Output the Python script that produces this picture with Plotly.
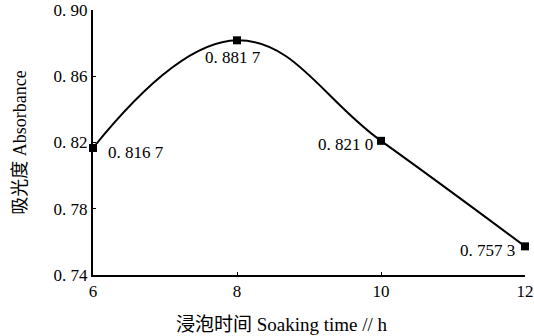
import plotly.graph_objects as go

soaking_time = [6, 8, 10, 12]
absorbance = [0.8167, 0.8817, 0.8210, 0.7573]
point_labels = ["0. 816 7", "0. 881 7", "0. 821 0", "0. 757 3"]
y_ticks = [0.74, 0.78, 0.82, 0.86, 0.90]
y_tick_labels = ["0. 74", "0. 78", "0. 82", "0. 86", "0. 90"]
x_ticks = [6, 8, 10, 12]
x_title = "浸泡时间 Soaking time // h"
y_title = "吸光度 Absorbance"

label_shifts = [(43, -5), (-4, -17), (-36, -4), (-38, -4)]

FONT = "Liberation Serif, Noto Sans CJK SC, serif"

fig = go.Figure()
fig.add_trace(go.Scatter(
    x=soaking_time, y=absorbance,
    mode="lines+markers",
    line=dict(color="black", width=2, shape="spline", smoothing=1.2),
    marker=dict(symbol="square", size=8, color="black"),
    cliponaxis=False,
    showlegend=False,
    hoverinfo="skip",
))

for xv, yv, txt, (dx, dy) in zip(soaking_time, absorbance, point_labels, label_shifts):
    fig.add_annotation(x=xv, y=yv, text=txt, showarrow=False,
                       xshift=dx, yshift=dy,
                       font=dict(family=FONT, size=17, color="black"))

# x-axis title placed slightly left of the plot centre, as in the original
fig.add_annotation(x=0.437, xref="paper", y=0, yref="paper",
                   text=x_title, showarrow=False, yanchor="top",
                   yshift=-37, font=dict(family=FONT, size=19, color="black"))

fig.update_layout(
    width=534, height=336,
    margin=dict(l=93, r=9, t=10, b=61, autoexpand=False),
    paper_bgcolor="white", plot_bgcolor="white",
    font=dict(family=FONT, size=17, color="black"),
)
fig.update_xaxes(
    range=[6, 12], tickvals=x_ticks, ticktext=[str(v) for v in x_ticks],
    showline=True, linecolor="black", linewidth=2,
    ticks="inside", ticklen=3, tickcolor="black",
    ticklabeloverflow="allow", automargin=False,
    showgrid=False, zeroline=False,
)
fig.update_yaxes(
    range=[0.74, 0.90], tickvals=y_ticks, ticktext=y_tick_labels,
    showline=True, linecolor="black", linewidth=2,
    ticks="inside", ticklen=3, tickcolor="black",
    automargin=False,
    showgrid=False, zeroline=False,
    title=dict(text=y_title, standoff=22,
               font=dict(family=FONT, size=18)),
)

fig.write_html("out.html", config={"displayModeBar": False},
               post_script="document.body.style.margin='0';")
